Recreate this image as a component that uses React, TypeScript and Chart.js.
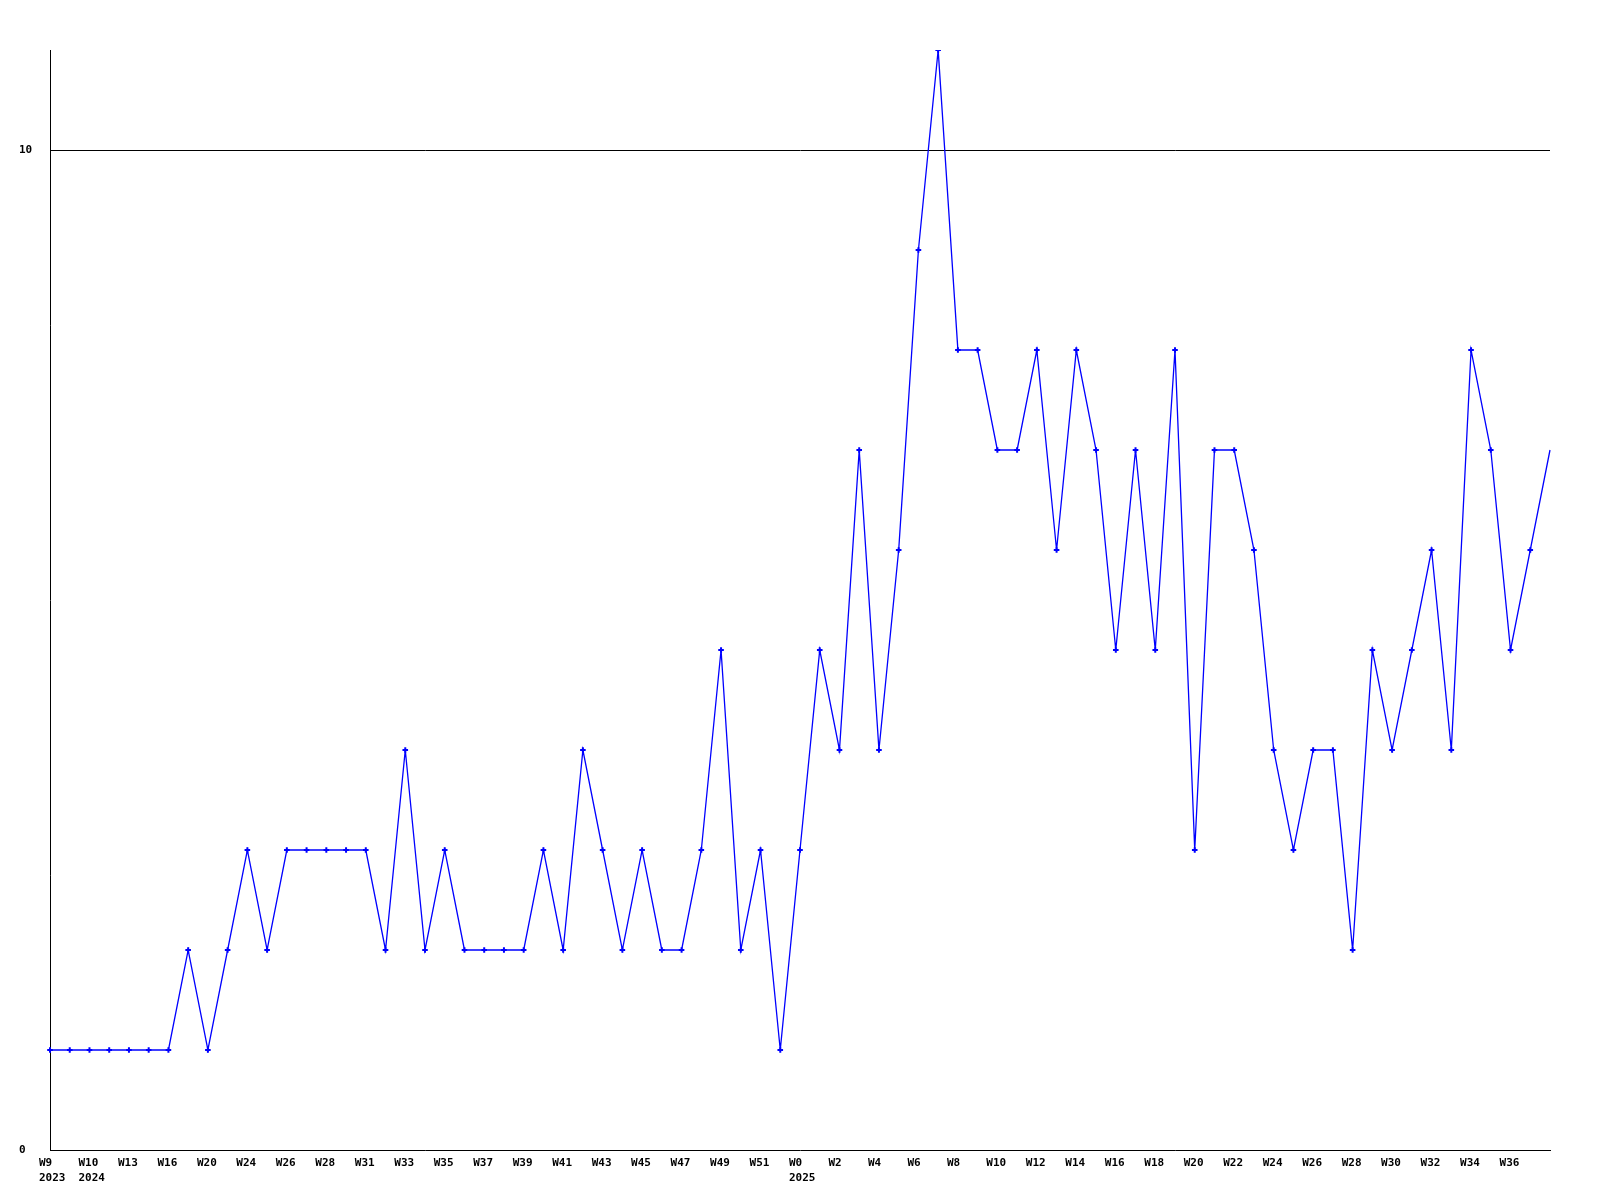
import React, { useEffect, useRef } from "react";
import { Chart, registerables } from "chart.js";

Chart.register(...registerables);

// weekly counts, W9 2023 .. W37 2025 (77 weeks)
const weekValues: number[] = [
  1, 1, 1, 1, 1, 1, 1, 2, 1, 2,
  3, 2, 3, 3, 3, 3, 3, 2, 4, 2,
  3, 2, 2, 2, 2, 3, 2, 4, 3, 2,
  3, 2, 2, 3, 5, 2, 3, 1, 3, 5,
  4, 7, 4, 6, 9, 11, 8, 8, 7, 7,
  8, 6, 8, 7, 5, 7, 5, 8, 3, 7,
  7, 6, 4, 3, 4, 4, 2, 5, 4, 5,
  6, 4, 8, 7, 5, 6, 7,
];

// tick labels shown on every second week
const tickLabels: (string | string[])[] = [
  ["W9", "2023"], ["W10", "2024"], "W13", "W16", "W20", "W24", "W26", "W28", "W31",
  "W33", "W35", "W37", "W39", "W41", "W43", "W45", "W47", "W49", "W51",
  ["W0", "2025"], "W2", "W4", "W6", "W8", "W10", "W12", "W14", "W16", "W18",
  "W20", "W22", "W24", "W26", "W28", "W30", "W32", "W34", "W36",
];

const yTickValues: number[] = [0, 10];

export default function App() {
  const ref = useRef<HTMLCanvasElement | null>(null);

  useEffect(() => {
    document.body.style.margin = "0";
    document.body.style.overflow = "hidden";
    const canvas = ref.current;
    if (!canvas) return;
    const categories = weekValues.map((_, i) => String(i));
    const font = { family: "'DejaVu Sans Mono', monospace", size: 11, weight: "bold" as const, lineHeight: 1.4 };
    const chart = new Chart(canvas, {
      type: "line",
      data: {
        labels: categories,
        datasets: [
          {
            data: weekValues,
            borderColor: "#0000ff",
            backgroundColor: "#0000ff",
            borderWidth: 1.3,
            tension: 0,
            pointStyle: "cross",
            pointRadius: weekValues.map((_, i) => (i === weekValues.length - 1 ? 0 : 2.8)),
            pointBorderWidth: 2,
            pointBorderColor: "#0000ff",
            fill: false,
          },
        ],
      },
      options: {
        animation: false,
        responsive: false,
        maintainAspectRatio: false,
        devicePixelRatio: 1,
        layout: { padding: { left: 19, top: 50, right: 50, bottom: 0 } },
        plugins: { legend: { display: false }, tooltip: { enabled: false } },
        scales: {
          x: {
            type: "category",
            offset: false,
            grid: { display: false, drawTicks: false },
            border: { display: true, color: "#000000", width: 1 },
            ticks: {
              autoSkip: false,
              maxRotation: 0,
              minRotation: 0,
              align: "start",
              labelOffset: -11,
              padding: 5,
              color: "#000000",
              font,
              callback: (_v: any, index: number) => (index % 2 === 0 ? tickLabels[index / 2] ?? "" : ""),
            },
            afterFit: (scale: any) => {
              scale.height = 50;
            },
          },
          y: {
            min: 0,
            max: 11,
            grid: {
              drawTicks: false,
              color: (ctx: any) => (ctx.tick && ctx.tick.value === 10 ? "#000000" : "rgba(0,0,0,0)"),
              lineWidth: 1,
            },
            border: { display: true, color: "#000000", width: 1 },
            ticks: {
              crossAlign: "far",
              padding: 0,
              color: "#000000",
              font,
            },
            afterBuildTicks: (scale: any) => {
              scale.ticks = yTickValues.map((v) => ({ value: v }));
            },
            afterFit: (scale: any) => {
              scale.width = 31;
            },
          },
        },
      },
    });
    return () => chart.destroy();
  }, []);

  return (
    <div style={{ position: "absolute", left: 0, top: 0, width: 1600, height: 1200, background: "#ffffff" }}>
      <canvas ref={ref} width={1600} height={1200} style={{ width: 1600, height: 1200, display: "block" }} />
    </div>
  );
}
